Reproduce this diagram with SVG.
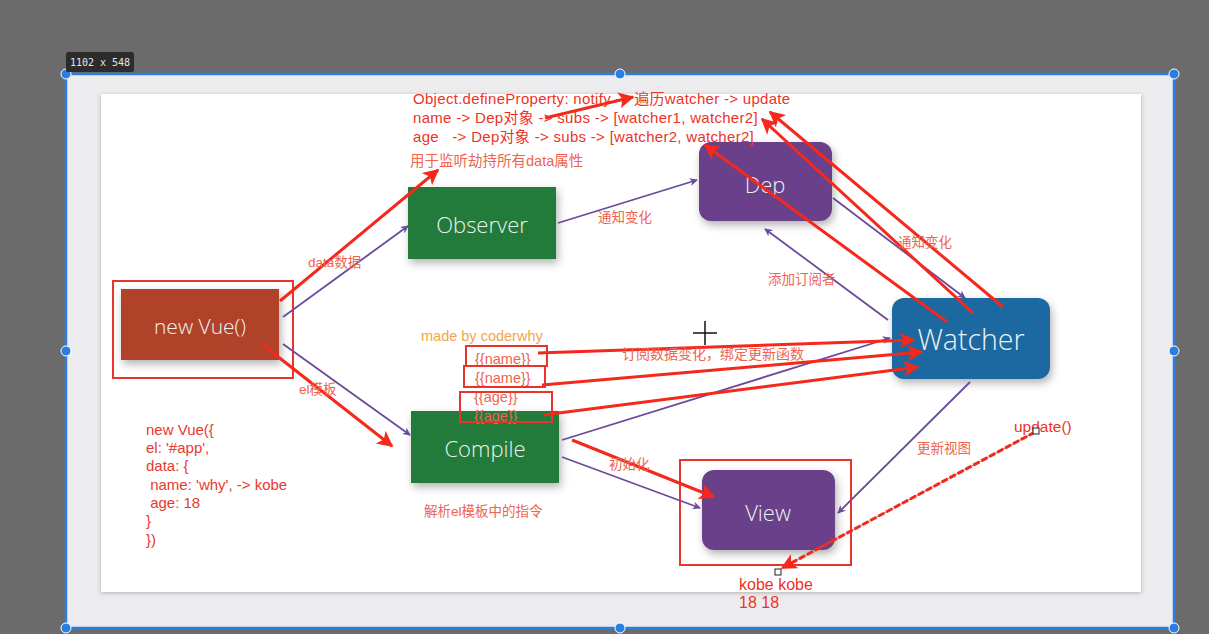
<svg xmlns="http://www.w3.org/2000/svg" width="1209" height="634" viewBox="0 0 1209 634">
<defs>
<style>
.frame{fill:#ececee;stroke:#2a7de1;stroke-width:2.5}
.handle{fill:#2a7de1;stroke:#ffffff;stroke-width:1}
.node-text{font-family:"Open Sans","Liberation Sans",sans-serif;font-weight:300;fill:#eef2ee;text-anchor:middle;dominant-baseline:central}
.lbl{font-family:"Liberation Sans","Noto Sans CJK SC",sans-serif;font-size:13.5px;fill:#ee6450}
.ann{font-family:"Liberation Sans","Noto Sans CJK SC",sans-serif;font-size:15px;fill:#ee3326}
.code{font-family:"Liberation Sans","Noto Sans CJK SC",sans-serif;font-size:15px;fill:#e8392c}
.purple{stroke:#6a4a9a;stroke-width:1.8;fill:none;marker-end:url(#pa)}
.red{stroke:#f5281c;stroke-width:3;fill:none;marker-end:url(#ra)}
.rbox{fill:none;stroke:#e8342a;stroke-width:2}
</style>
<marker id="pa" viewBox="0 0 10 10" refX="9" refY="5" markerWidth="8" markerHeight="8" markerUnits="userSpaceOnUse" orient="auto"><path d="M0,0 L10,5 L0,10 L3,5 z" fill="#6a4a9a"/></marker>
<marker id="ra" viewBox="0 0 10 10" refX="9" refY="5" markerWidth="20" markerHeight="16" markerUnits="userSpaceOnUse" orient="auto"><path d="M0,0 L10,5 L0,10 L2.5,5 z" fill="#f5281c"/></marker>
<filter id="sh" x="-20%" y="-20%" width="150%" height="160%"><feDropShadow dx="2" dy="4" stdDeviation="4" flood-color="#000" flood-opacity="0.3"/></filter>
<filter id="psh" x="-5%" y="-5%" width="110%" height="110%"><feDropShadow dx="0" dy="1" stdDeviation="2" flood-color="#000" flood-opacity="0.25"/></filter>
</defs>

<rect x="0" y="0" width="1209" height="634" fill="#6b6b6b"/>
<rect class="frame" x="66" y="74" width="1108" height="554"/>
<rect x="101" y="94" width="1040" height="498" fill="#ffffff" filter="url(#psh)"/>
<g id="handles">
<circle class="handle" cx="66" cy="74" r="5"/><circle class="handle" cx="620" cy="74" r="5"/><circle class="handle" cx="1174" cy="74" r="5"/>
<circle class="handle" cx="66" cy="351" r="5"/><circle class="handle" cx="1174" cy="351" r="5"/>
<circle class="handle" cx="66" cy="628" r="5"/><circle class="handle" cx="620" cy="628" r="5"/><circle class="handle" cx="1174" cy="628" r="5"/>
</g>
<g id="size-label">
<rect x="66" y="52" width="68" height="20" rx="2" fill="#2c2c2c"/>
<text x="100" y="66" font-family="DejaVu Sans Mono,monospace" font-size="10" fill="#e6e6e6" text-anchor="middle">1102 x 548</text>
</g>

<g id="new-vue">
<rect x="121" y="289" width="158" height="71" fill="#b0432b" filter="url(#sh)"/>
<text class="node-text" x="200" y="326" font-size="21">new Vue()</text>
<rect class="rbox" x="113" y="281" width="180" height="97"/>
</g>
<g id="observer">
<rect x="408" y="187" width="148" height="72" fill="#237a3b" filter="url(#sh)"/>
<text class="node-text" x="482" y="224" font-size="22">Observer</text>
</g>
<g id="compile">
<rect x="411" y="411" width="148" height="72" fill="#237a3b" filter="url(#sh)"/>
<text class="node-text" x="485" y="448" font-size="22">Compile</text>
</g>
<g id="dep">
<rect x="699" y="142" width="133" height="79" rx="12" fill="#6a3f8a" filter="url(#sh)"/>
<text class="node-text" x="765" y="184" font-size="22">Dep</text>
</g>
<g id="watcher">
<rect x="892" y="298" width="158" height="81" rx="12" fill="#1f67a1" filter="url(#sh)"/>
<text class="node-text" x="971" y="339" font-size="28.5">Watcher</text>
</g>
<g id="view">
<rect x="702" y="470" width="133" height="80" rx="12" fill="#6a3f8a" filter="url(#sh)"/>
<text class="node-text" x="768" y="512" font-size="22">View</text>
<rect class="rbox" x="680" y="460" width="171" height="105"/>
</g>

<g id="connectors">
<line class="purple" x1="283" y1="317" x2="408" y2="226"/>
<line class="purple" x1="283" y1="344" x2="410" y2="435"/>
<line class="purple" x1="558" y1="223" x2="697" y2="180"/>
<line class="purple" x1="833" y1="198" x2="965" y2="298"/>
<line class="purple" x1="888" y1="320" x2="765" y2="229"/>
<line class="purple" x1="562" y1="440" x2="890" y2="338"/>
<line class="purple" x1="562" y1="457" x2="700" y2="508"/>
<line class="purple" x1="970" y1="382" x2="838" y2="513"/>

<line class="red" x1="280" y1="301" x2="438" y2="170"/>
<line class="red" x1="263" y1="345" x2="392" y2="446"/>
<line class="red" x1="545" y1="118" x2="633" y2="97"/>
<line class="red" x1="1003" y1="307" x2="770" y2="112"/>
<line class="red" x1="973" y1="313" x2="762" y2="119"/>
<line class="red" x1="947" y1="322" x2="705" y2="145"/>
<line class="red" x1="538" y1="353" x2="914" y2="340"/>
<line class="red" x1="542" y1="385" x2="922" y2="352"/>
<line class="red" x1="543" y1="415" x2="918" y2="367"/>
<line class="red" x1="572" y1="440" x2="714" y2="497"/>
<line x1="1035" y1="432" x2="782" y2="568" stroke="#8a8a8a" stroke-width="1"/>
<line class="red" x1="1035" y1="432" x2="782" y2="568" stroke-dasharray="7 2"/>
</g>

<g id="labels">
<text class="lbl" x="308" y="267">data数据</text>
<text class="lbl" x="299" y="394">el模板</text>
<text class="lbl" x="598" y="222">通知变化</text>
<text class="lbl" x="898" y="247">通知变化</text>
<text class="lbl" x="768" y="284">添加订阅者</text>
<text class="lbl" x="609" y="469">初始化</text>
<text class="lbl" x="917" y="453">更新视图</text>
<text class="lbl" x="424" y="516">解析el模板中的指令</text>
<text class="lbl" x="410" y="166" style="font-size:14.5px">用于监听劫持所有data属性</text>
<text class="lbl" x="622" y="359" style="font-size:14px">订阅数据变化，绑定更新函数</text>
<text x="421" y="341" font-family="Liberation Sans,sans-serif" font-size="14.5" fill="#f3a54a">made by coderwhy</text>
</g>

<g id="template-vars">
<text class="lbl" x="475" y="364" style="font-size:14.5px">{{name}}</text>
<rect class="rbox" x="466" y="346" width="81" height="20"/>
<text class="lbl" x="475" y="383" style="font-size:14.5px">{{name}}</text>
<rect class="rbox" x="464" y="366" width="81" height="21"/>
<text class="lbl" x="474" y="402" style="font-size:14.5px">{{age}}</text>
<text class="lbl" x="474" y="421" style="font-size:14.5px">{{age}}</text>
<rect class="rbox" x="460" y="392" width="92" height="30"/>
</g>

<g id="annotations">
<text class="ann" x="413" y="104" letter-spacing="0.3">Object.defineProperty: notify -&gt; 遍历watcher -&gt; update</text>
<text class="ann" x="413" y="123" letter-spacing="0.3">name -&gt; Dep对象 -&gt; subs -&gt; [watcher1, watcher2]</text>
<text class="ann" x="413" y="142" letter-spacing="0.3" xml:space="preserve">age   -&gt; Dep对象 -&gt; subs -&gt; [watcher2, watcher2]</text>
<text class="code" x="146" y="435">new Vue({</text>
<text class="code" x="146" y="453">el: '#app',</text>
<text class="code" x="146" y="471">data: {</text>
<text class="code" x="146" y="490" xml:space="preserve"> name: 'why', -&gt; kobe</text>
<text class="code" x="146" y="508" xml:space="preserve"> age: 18</text>
<text class="code" x="146" y="526">}</text>
<text class="code" x="146" y="545">})</text>
<text class="ann" x="1014" y="432" style="font-size:15.5px">update()</text>
<text class="ann" x="739" y="590" style="font-size:16px">kobe kobe</text>
<text class="ann" x="739" y="608" style="font-size:16px">18 18</text>
<rect x="775" y="569" width="6" height="6" fill="#fff" stroke="#222" stroke-width="1"/>
<rect x="1033" y="428" width="6" height="6" fill="#fff" stroke="#222" stroke-width="1"/>
</g>

<g id="cursor" stroke="#111" stroke-width="1.5">
<line x1="693" y1="333" x2="717" y2="333"/>
<line x1="705" y1="321" x2="705" y2="345"/>
</g>
</svg>
